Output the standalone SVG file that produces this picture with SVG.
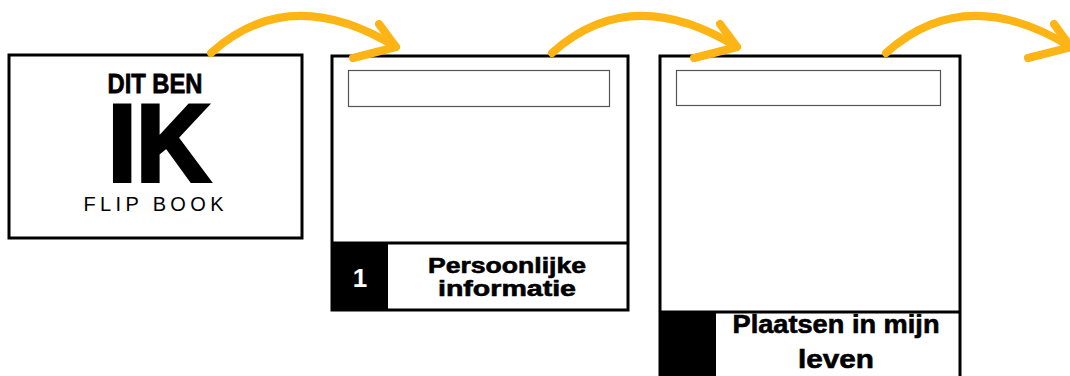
<svg xmlns="http://www.w3.org/2000/svg" width="1070" height="376" viewBox="0 0 1070 376">
<style>
.box{fill:#fff;stroke:#000;stroke-width:3}
.field{fill:#fff;stroke:#555;stroke-width:1.2}
.arrow{fill:none;stroke:#FDB515;stroke-width:8;stroke-linecap:round;stroke-linejoin:round}
.lbl{font-family:"Liberation Sans",Arial,sans-serif;font-weight:bold;fill:#000;text-anchor:middle}
</style>
<rect width="1070" height="376" fill="#fff"/>
<g id="node-cover">
<rect class="box" x="9" y="55" width="293" height="183"/>
<text class="lbl" x="155" y="93" font-size="28" textLength="95" lengthAdjust="spacingAndGlyphs" stroke="#000" stroke-width="0.8">DIT BEN</text>
<text class="lbl" x="159" y="181" font-size="110" textLength="102" lengthAdjust="spacingAndGlyphs" stroke="#000" stroke-width="4">IK</text>
<text x="155" y="211" font-family="'Liberation Sans',Arial,sans-serif" font-size="20" text-anchor="middle" letter-spacing="3" textLength="143" lengthAdjust="spacing">FLIP BOOK</text>
</g>
<g id="node-page1">
<rect class="box" x="332" y="56" width="296" height="254"/>
<rect class="field" x="348.5" y="70.5" width="261" height="36"/>
<line x1="332" y1="243" x2="628" y2="243" stroke="#000" stroke-width="3"/>
<rect x="332" y="243" width="56" height="67" fill="#000"/>
<text class="lbl" x="360" y="287" font-size="26" style="fill:#fff">1</text>
<text class="lbl" x="507" y="273" font-size="22" textLength="158" lengthAdjust="spacingAndGlyphs" stroke="#000" stroke-width="0.6">Persoonlijke</text>
<text class="lbl" x="507" y="296" font-size="22" textLength="138" lengthAdjust="spacingAndGlyphs" stroke="#000" stroke-width="0.6">informatie</text>
</g>
<g id="node-page2">
<rect class="box" x="660" y="56" width="300" height="330"/>
<rect class="field" x="676.5" y="70.5" width="264" height="35"/>
<line x1="660" y1="312" x2="960" y2="312" stroke="#000" stroke-width="3"/>
<rect x="660" y="312" width="56" height="70" fill="#000"/>
<text class="lbl" x="836" y="333" font-size="26" textLength="207" lengthAdjust="spacingAndGlyphs" stroke="#000" stroke-width="0.6">Plaatsen in mijn</text>
<text class="lbl" x="836" y="368" font-size="26" textLength="76" lengthAdjust="spacingAndGlyphs" stroke="#000" stroke-width="0.6">leven</text>
</g>
<g id="connectors">
<path class="arrow" d="M211 53 Q290 -18 396 47"/>
<path class="arrow" d="M379 24 L396 47 L353 58"/>
<path class="arrow" d="M552 53 Q631 -18 737 47"/>
<path class="arrow" d="M720 24 L737 47 L694 58"/>
<path class="arrow" d="M886 53 Q965 -18 1071 47"/>
<path class="arrow" d="M1054 24 L1071 47 L1028 58"/>
</g>
</svg>
